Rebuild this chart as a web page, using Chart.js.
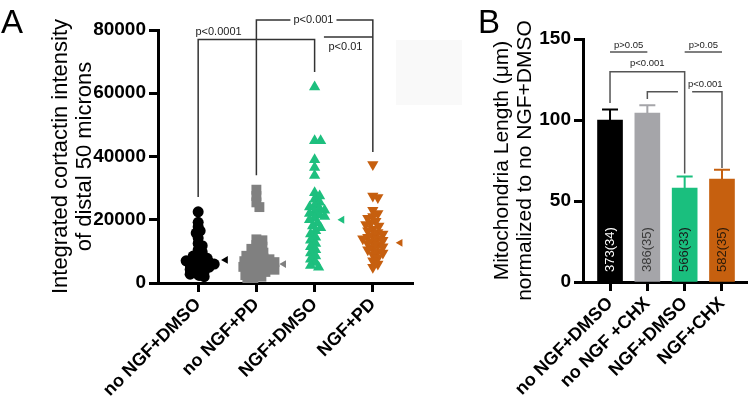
<!DOCTYPE html>
<html>
<head>
<meta charset="utf-8">
<script src="https://cdn.jsdelivr.net/npm/chart.js@4.4.1/dist/chart.umd.min.js"></script>
<style>
html, body { margin: 0; padding: 0; background: #fff; }
#wrap { position: relative; width: 749px; height: 408px; overflow: hidden; font-family: "Liberation Sans", Arial, sans-serif; }
#cA { position: absolute; left: 0; top: 0; }
#cB { position: absolute; left: 440px; top: 0; }
.panel { position: absolute; font-size: 33px; line-height: 1; color: #000; }
#smudge { position: absolute; left: 396px; top: 40px; width: 66px; height: 65px; background: #f9f9f9; }
</style>
</head>
<body>
<div id="wrap">
  <div id="smudge"></div>
  <canvas id="cA" width="420" height="408"></canvas>
  <canvas id="cB" width="309" height="408"></canvas>
  <div class="panel" style="left:1px;top:5px">A</div>
  <div class="panel" style="left:478px;top:5px">B</div>
</div>
<script>
const FONT = '"Liberation Sans", Arial, sans-serif';

// ---- panel A data ----
const catsA = ['no NGF+DMSO', 'no NGF+PD', 'NGF+DMSO', 'NGF+PD'];
const yTicksA = [0, 20000, 40000, 60000, 80000];
const noNgfDmso = [22500, 19200, 17800, 16500, 15800, 14200, 12500, 11800, 10500, 9800, 9000, 8500, 8200, 7800, 7500,
  7200, 7000, 6800, 6500, 6300, 6000, 5800, 5500, 5200, 5000, 4700, 4300, 4000, 3600, 3200, 2800, 2400, 2000];
const noNgfPd = [29500, 27500, 25500, 24000, 13800, 13500, 12000, 11500, 10800, 10200, 9600, 9000, 8600, 8200, 7800,
  7500, 7200, 6900, 6600, 6300, 6000, 5700, 5400, 5100, 4800, 4500, 4200, 3900, 3500, 3000, 2500, 2000, 1500, 800];
const ngfDmso = [62000, 45000, 45000, 39000, 36500, 34000, 28500, 27500, 26500, 25500, 24500, 24000, 23500, 23000,
  22500, 22000, 21500, 21000, 20500, 20000, 19000, 18000, 17500, 16500, 15500, 14500, 13500, 12500, 11500, 10500,
  9500, 8500, 7500, 6500, 5500, 5000];
const ngfPd = [37500, 27500, 27000, 23000, 22000, 21000, 20500, 19500, 19000, 18500, 18000, 17000, 16500, 16000,
  15500, 15000, 14500, 14000, 14000, 13500, 13000, 12500, 12000, 11500, 11000, 10500, 10000, 9500, 9000, 8000,
  7000, 6000, 5000];
const meansA = [7300, 6000, 20000, 12700];

// ---- panel B data ----
const catsB = ['no NGF+DMSO', 'no NGF +CHX', 'NGF+DMSO', 'NGF+CHX'];
const yTicksB = [0, 50, 100, 150];
const lengthB = [100, 104.3, 58, 63.5];
const semB = [6.5, 4.8, 7.2, 5.8];
const countsB = ['373(34)', '386(35)', '566(33)', '582(35)'];

// significance brackets (data units)
const bracketsA = [
  { x1: 0, x2: 2, y: 77000, yl: 27200, yr: 66700 },
  { x1: 1, x2: 3, y: 83200, yl: 34100, yr: 41400 },
  { x1: 2.16, x2: 3, y: 77800 }
];
const pTextA = [
  { t: 'p<0.0001', x: 0.35, y: 79400 },
  { t: 'p<0.001', x: 1.98, y: 83300, knock: true },
  { t: 'p<0.01', x: 2.53, y: 74600 }
];
const bracketsB = [
  { x1: 0, x2: 1, y: 142 },
  { x1: 2, x2: 3, y: 142 },
  { x1: 0, x2: 2, y: 129.8, yl: 110.5, yr: 67 },
  { x1: 1, x2: 1.82, y: 117.5, yl: 113 },
  { x1: 2.2, x2: 3, y: 117.5, yr: 70.4 }
];
const pTextB = [
  { t: 'p>0.05', x: 0.5, y: 146 },
  { t: 'p>0.05', x: 2.5, y: 146 },
  { t: 'p<0.001', x: 1, y: 135 },
  { t: 'p<0.001', x: 2.55, y: 122 }
];

const colA = ['#000000', '#808080', '#1dbf7e', '#c65f0f'];
const colB = ['#000000', '#a5a5a9', '#1abf7e', '#c6600f'];
const txtB = ['#ffffff', '#3a3a3a', '#1a1a1a', '#2a1a0a'];

// simple beeswarm: spread points sideways so they do not pile up
function swarm(vals, idx, r, factor) {
  const pxX = 58, pxY = 253 / 80000;
  const d = 2 * r * factor;
  const placed = [];
  return vals.slice().sort((a, b) => b - a).map(v => {
    const py = v * pxY;
    let off = 0;
    for (let k = 0; k < 400; k++) {
      const c = (k % 2 ? 1 : -1) * Math.ceil(k / 2);
      if (placed.every(p => Math.hypot(p.x - c, p.y - py) >= d)) { off = c; break; }
    }
    placed.push({ x: off, y: py });
    return { x: idx + off / pxX, y: v };
  });
}

function bracketPlugin(brackets, texts, color, fsize) {
  return {
    id: 'brackets',
    afterDraw(chart) {
      const { ctx, scales: { x, y } } = chart;
      ctx.save();
      ctx.strokeStyle = color;
      ctx.lineWidth = 1.5;
      brackets.forEach(b => {
        const X1 = x.getPixelForValue(b.x1), X2 = x.getPixelForValue(b.x2), Y = y.getPixelForValue(b.y);
        ctx.beginPath();
        if (b.yl != null) { ctx.moveTo(X1, y.getPixelForValue(b.yl)); ctx.lineTo(X1, Y); } else ctx.moveTo(X1, Y);
        ctx.lineTo(X2, Y);
        if (b.yr != null) ctx.lineTo(X2, y.getPixelForValue(b.yr));
        ctx.stroke();
      });
      ctx.font = fsize + 'px ' + FONT;
      ctx.textAlign = 'center';
      ctx.textBaseline = 'middle';
      texts.forEach(t => {
        const X = x.getPixelForValue(t.x), Y = y.getPixelForValue(t.y);
        if (t.knock) {
          const w = ctx.measureText(t.t).width + 6;
          ctx.fillStyle = '#fff';
          ctx.fillRect(X - w / 2, Y - fsize / 2, w, fsize);
        }
        ctx.fillStyle = '#222';
        ctx.fillText(t.t, X, Y);
      });
      ctx.restore();
    }
  };
}

function axisOpts(extra) {
  return Object.assign({
    grid: { drawOnChartArea: false, tickLength: 9, tickWidth: 3, tickColor: '#000', offset: false },
    border: { color: '#000', width: 3 }
  }, extra);
}

// ---- chart A ----
const groupsA = [noNgfDmso, noNgfPd, ngfDmso, ngfPd];
const stylesA = [
  { pointStyle: 'circle', r: 5.5, rot: 0 },
  { pointStyle: 'rect', r: 7, rot: 0 },
  { pointStyle: 'triangle', r: 6.5, rot: 0 },
  { pointStyle: 'triangle', r: 6.5, rot: 180 }
];

new Chart(document.getElementById('cA'), {
  type: 'scatter',
  data: {
    datasets: groupsA.map((g, i) => ({
      data: swarm(g, i, stylesA[i].r, 0.4),
      pointStyle: stylesA[i].pointStyle,
      pointRadius: stylesA[i].r,
      rotation: stylesA[i].rot,
      backgroundColor: colA[i],
      borderWidth: 0
    })).concat([{
      data: meansA.map((v, i) => ({ x: i + 0.47, y: v })),
      pointStyle: 'triangle',
      rotation: 270,
      pointRadius: 4.5,
      backgroundColor: colA,
      borderWidth: 0
    }])
  },
  options: {
    responsive: false,
    animation: false,
    layout: { padding: { top: 30, right: 7, left: 0, bottom: 0 } },
    plugins: { legend: { display: false }, tooltip: { enabled: false } },
    scales: {
      x: axisOpts({
        type: 'linear', min: -0.69, max: 3.69, offset: false,
        afterBuildTicks: s => { s.ticks = catsA.map((c, i) => ({ value: i })); },
        afterFit: s => { s.height = 125; },
        ticks: { callback: v => catsA[v], minRotation: 45, maxRotation: 45, autoSkip: false,
          font: { family: FONT, size: 18, weight: 'bold' }, color: '#000', padding: 2 }
      }),
      y: axisOpts({
        min: 0, max: 80000,
        afterBuildTicks: s => { s.ticks = yTicksA.map(v => ({ value: v })); },
        afterFit: s => { s.width = 158; },
        ticks: { callback: v => String(v), font: { family: FONT, size: 19, weight: 'bold' }, color: '#000', padding: 3 },
        title: { display: true, text: ['Integrated cortactin intensity', 'of distal 50 microns'],
          font: { family: FONT, size: 22, lineHeight: 1.1 }, color: '#000', padding: { top: 49 } }
      })
    }
  },
  plugins: [bracketPlugin(bracketsA, pTextA, '#333', 11)]
});

// ---- chart B ----
const barExtras = {
  id: 'barExtras',
  afterDatasetsDraw(chart) {
    const { ctx, scales: { x, y } } = chart;
    ctx.save();
    lengthB.forEach((v, i) => {
      const X = x.getPixelForValue(i);
      const Y0 = y.getPixelForValue(v), Y1 = y.getPixelForValue(v + semB[i]);
      ctx.strokeStyle = colB[i];
      ctx.lineWidth = 2;
      ctx.beginPath();
      ctx.moveTo(X, Y0); ctx.lineTo(X, Y1);
      ctx.moveTo(X - 8, Y1); ctx.lineTo(X + 8, Y1);
      ctx.stroke();

      ctx.save();
      ctx.translate(X, y.getPixelForValue(0) - 10);
      ctx.rotate(-Math.PI / 2);
      ctx.font = '13px ' + FONT;
      ctx.textAlign = 'left';
      ctx.textBaseline = 'middle';
      ctx.fillStyle = txtB[i];
      ctx.fillText(countsB[i], 0, 0);
      ctx.restore();
    });
    ctx.restore();
  }
};

new Chart(document.getElementById('cB'), {
  type: 'bar',
  data: {
    datasets: [{
      data: lengthB.map((v, i) => ({ x: i, y: v })),
      backgroundColor: colB,
      barThickness: 25,
      borderWidth: 0
    }]
  },
  options: {
    responsive: false,
    animation: false,
    layout: { padding: { top: 39, right: 2, left: 0, bottom: 0 } },
    plugins: { legend: { display: false }, tooltip: { enabled: false } },
    scales: {
      x: axisOpts({
        type: 'linear', min: -0.724, max: 3.67, offset: false,
        afterBuildTicks: s => { s.ticks = catsB.map((c, i) => ({ value: i })); },
        afterFit: s => { s.height = 126; },
        ticks: { callback: v => catsB[v], minRotation: 45, maxRotation: 45, autoSkip: false,
          font: { family: FONT, size: 18, weight: 'bold' }, color: '#000', padding: 2 }
      }),
      y: axisOpts({
        min: 0, max: 150,
        afterBuildTicks: s => { s.ticks = yTicksB.map(v => ({ value: v })); },
        afterFit: s => { s.width = 143; },
        ticks: { font: { family: FONT, size: 19, weight: 'bold' }, color: '#000', padding: 3 },
        title: { display: true, text: ['Mitochondria Length (\u03bcm)', 'normalized to no NGF+DMSO'],
          font: { family: FONT, size: 21, lineHeight: 1.1 }, color: '#000', padding: { top: 51 } }
      })
    }
  },
  plugins: [barExtras, bracketPlugin(bracketsB, pTextB, '#555', 9.5)]
});
</script>
</body>
</html>
